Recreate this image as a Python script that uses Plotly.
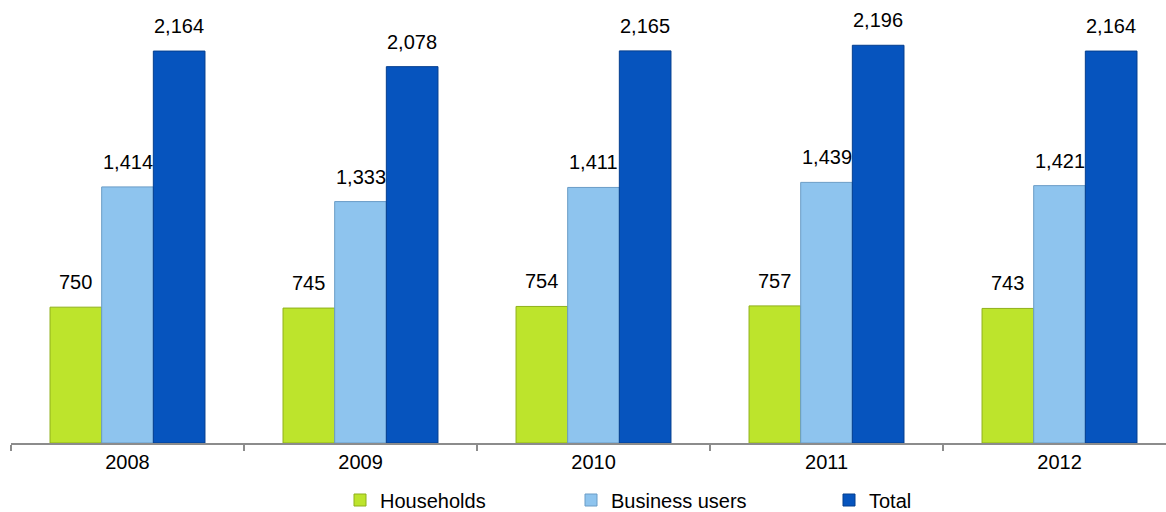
import plotly.graph_objects as go

years = ["2008", "2009", "2010", "2011", "2012"]
households = [750, 745, 754, 757, 743]
business_users = [1414, 1333, 1411, 1439, 1421]
total = [2164, 2078, 2165, 2196, 2164]

series = [
    ("Households", households, "#BDE42C", "#8FB01A", "legend"),
    ("Business users", business_users, "#8EC4EE", "#6A9CC6", "legend2"),
    ("Total", total, "#0654BE", "#043E8E", "legend3"),
]
legend_left_px = [340, 571, 829]

W, H = 1166, 512
margin = dict(l=11, r=0, t=0, b=69)
x_range = [-0.5, 4.457]
y_range = [0, 2446]
bargap = 0.335

font = "Liberation Sans, Arial, sans-serif"

fig = go.Figure()
for name, vals, color, edge, leg in series:
    fig.add_trace(go.Bar(
        name=name, x=years, y=vals, legend=leg,
        marker=dict(color=color, line=dict(color=edge, width=1)),
    ))

# value labels centred over each bar of a group (x given as category index)
plot_w = W - margin["l"] - margin["r"]
px_per_cat = plot_w / (x_range[1] - x_range[0])
bar_px = px_per_cat * (1 - bargap) / len(series)
for i, (name, vals, color, edge, leg) in enumerate(series):
    shift = (i - (len(series) - 1) / 2) * bar_px
    for j, v in enumerate(vals):
        fig.add_annotation(
            xref="x", yref="y", x=j, y=v, text=f"{v:,}", showarrow=False,
            xanchor="center", yanchor="bottom", xshift=shift, yshift=12,
            font=dict(family=font, size=20, color="#000000"),
        )

legend_style = dict(
    orientation="h", xanchor="left", y=1 - 500 / H, yanchor="middle",
    yref="container", font=dict(family=font, size=20, color="#000000"),
    itemwidth=30, bgcolor="rgba(0,0,0,0)",
)
legends = {}
for key, left in zip(["legend", "legend2", "legend3"], legend_left_px):
    legends[key] = dict(legend_style, x=(left - margin["l"]) / plot_w)

fig.update_layout(
    width=W, height=H, margin=margin,
    paper_bgcolor="white", plot_bgcolor="white",
    barmode="group", bargap=bargap, bargroupgap=0,
    font=dict(family=font, size=20, color="#000000"),
    showlegend=True,
    **legends,
    xaxis=dict(
        type="category", range=x_range, showline=True, linecolor="#8C8C8C",
        linewidth=2, ticks="outside", tickson="boundaries", ticklen=6,
        tickcolor="#8C8C8C", tickwidth=2, showgrid=False, zeroline=False,
        tickfont=dict(family=font, size=20, color="#000000"),
    ),
    yaxis=dict(range=y_range, showticklabels=False, showline=False, ticks="",
               showgrid=False, zeroline=False),
)

fig.write_html("out.html")
